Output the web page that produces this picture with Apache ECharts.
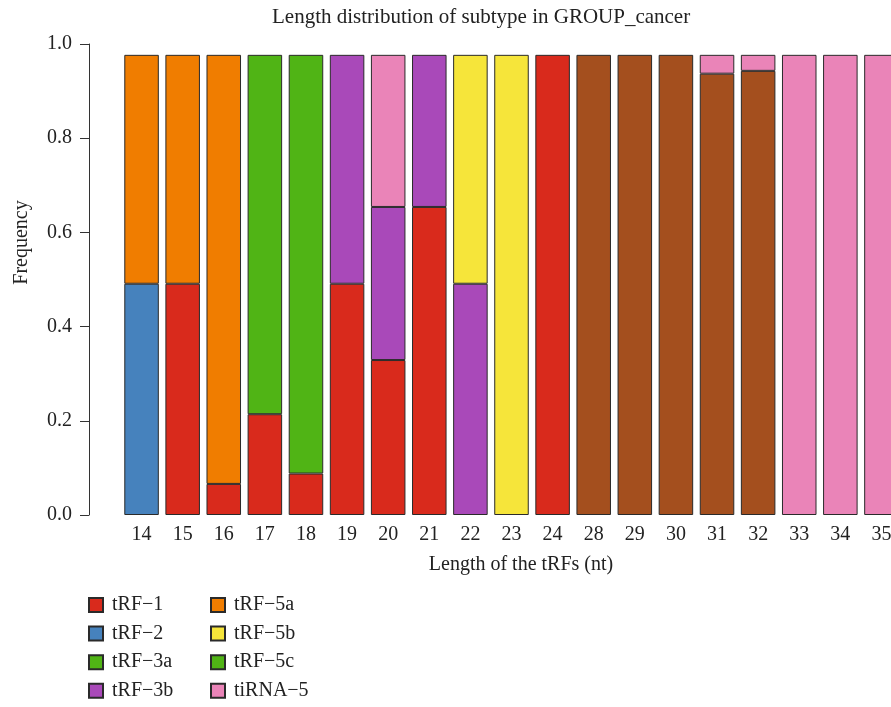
<!DOCTYPE html>
<html>
<head>
<meta charset="utf-8">
<script src="https://cdn.jsdelivr.net/npm/echarts@6/dist/echarts.min.js"></script>
<style>
  html, body { margin: 0; padding: 0; background: #fff; }
  #chart { width: 891px; height: 707px; }
</style>
</head>
<body>
<div id="chart"></div>
<script>
// tRF length (nt)
var lengths = ['14','15','16','17','18','19','20','21','22','23','24','28','29','30','31','32','33','34','35'];

// frequency of each subtype per length
var tRF1    = [0, 0.491, 0.066, 0.214, 0.088, 0.491, 0.329, 0.654, 0, 0, 0.977, 0, 0, 0, 0, 0, 0, 0, 0];
var tRF2    = [0.491, 0, 0, 0, 0, 0, 0, 0, 0, 0, 0, 0, 0, 0, 0, 0, 0, 0, 0];
var tRF3a   = [0, 0, 0, 0.763, 0.889, 0, 0, 0, 0, 0, 0, 0, 0, 0, 0, 0, 0, 0, 0];
var tRF3b   = [0, 0, 0, 0, 0, 0.486, 0.325, 0.323, 0.491, 0, 0, 0, 0, 0, 0, 0, 0, 0, 0];
var tRF5a   = [0.486, 0.486, 0.911, 0, 0, 0, 0, 0, 0, 0, 0, 0, 0, 0, 0, 0, 0, 0, 0];
var tRF5b   = [0, 0, 0, 0, 0, 0, 0, 0, 0.486, 0.977, 0, 0, 0, 0, 0, 0, 0, 0, 0];
var tRF5c   = [0, 0, 0, 0, 0, 0, 0, 0, 0, 0, 0, 0, 0, 0, 0, 0, 0, 0, 0];
var tiRNA3  = [0, 0, 0, 0, 0, 0, 0, 0, 0, 0, 0, 0.977, 0.977, 0.977, 0.937, 0.943, 0, 0, 0];
var tiRNA5  = [0, 0, 0, 0, 0, 0, 0.323, 0, 0, 0, 0, 0, 0, 0, 0.040, 0.034, 0.977, 0.977, 0.977];

var yTicks = [0, 0.2, 0.4, 0.6, 0.8, 1.0];

var subtypes = [
  { name: 'tRF\u22121',   data: tRF1,   color: '#D92A1C' },
  { name: 'tRF\u22122',   data: tRF2,   color: '#4682BD' },
  { name: 'tRF\u22123a',  data: tRF3a,  color: '#50B415' },
  { name: 'tRF\u22123b',  data: tRF3b,  color: '#A949B9' },
  { name: 'tRF\u22125a',  data: tRF5a,  color: '#F07D00' },
  { name: 'tRF\u22125b',  data: tRF5b,  color: '#F6E53A' },
  { name: 'tRF\u22125c',  data: tRF5c,  color: '#50B415' },
  { name: 'tiRNA\u22123', data: tiRNA3, color: '#A44F1E' },
  { name: 'tiRNA\u22125', data: tiRNA5, color: '#EA84B8' }
];

var font = 'Liberation Serif';

var series = subtypes.map(function (s) {
  return {
    name: s.name,
    type: 'bar',
    stack: 'total',
    barCategoryGap: '16%',
    data: s.data.map(function (v) { return v === 0 ? '-' : v; }),
    itemStyle: { color: s.color, borderColor: '#2a2a2a', borderWidth: 1 }
  };
});

function legendBlock(names, left) {
  return {
    orient: 'vertical',
    left: left,
    top: 595,
    padding: 0,
    itemWidth: 14,
    itemHeight: 14,
    itemGap: 8.6,
    icon: 'rect',
    selectedMode: false,
    data: names,
    textStyle: { fontFamily: font, fontSize: 20, color: '#222', padding: [0, 0, 0, 4] }
  };
}

var myChart = echarts.init(document.getElementById('chart'));
myChart.setOption({
  animation: false,
  backgroundColor: '#fff',
  title: {
    text: 'Length distribution of subtype in GROUP_cancer',
    left: 272,
    top: 7,
    padding: 0,
    textStyle: { fontFamily: font, fontSize: 21, fontWeight: 'normal', color: '#222' }
  },
  legend: [
    legendBlock([subtypes[0].name, subtypes[1].name, subtypes[2].name, subtypes[3].name], 88),
    legendBlock([subtypes[4].name, subtypes[5].name, subtypes[6].name, subtypes[8].name], 210)
  ],
  grid: { left: 121, top: 44, width: 781, height: 471, outerBoundsMode: 'none', containLabel: false },
  xAxis: {
    type: 'category',
    data: lengths,
    axisLine: { show: false },
    axisTick: { show: false },
    axisLabel: { fontFamily: font, fontSize: 20, color: '#222', margin: 10, interval: 0 },
    name: 'Length of the tRFs (nt)',
    nameLocation: 'middle',
    nameGap: 40,
    nameTextStyle: { fontFamily: font, fontSize: 20, color: '#222', padding: [0, 0, 0, 19] }
  },
  yAxis: {
    type: 'value',
    min: yTicks[0],
    max: yTicks[yTicks.length - 1],
    interval: 0.2,
    offset: 32,
    axisLine: { show: true, lineStyle: { color: '#333', width: 1 } },
    axisTick: { show: true, length: 9, lineStyle: { color: '#333' } },
    splitLine: { show: false },
    axisLabel: {
      fontFamily: font, fontSize: 20, color: '#222', margin: 17,
      formatter: function (v) { return v.toFixed(1); }
    },
    name: 'Frequency',
    nameLocation: 'middle',
    nameRotate: 90,
    nameGap: 57,
    nameTextStyle: { fontFamily: font, fontSize: 20, color: '#222', padding: [0, 0, 0, 74] }
  },
  series: series
});
window.addEventListener('resize', function () {
  myChart.resize();
});
</script>
</body>
</html>
